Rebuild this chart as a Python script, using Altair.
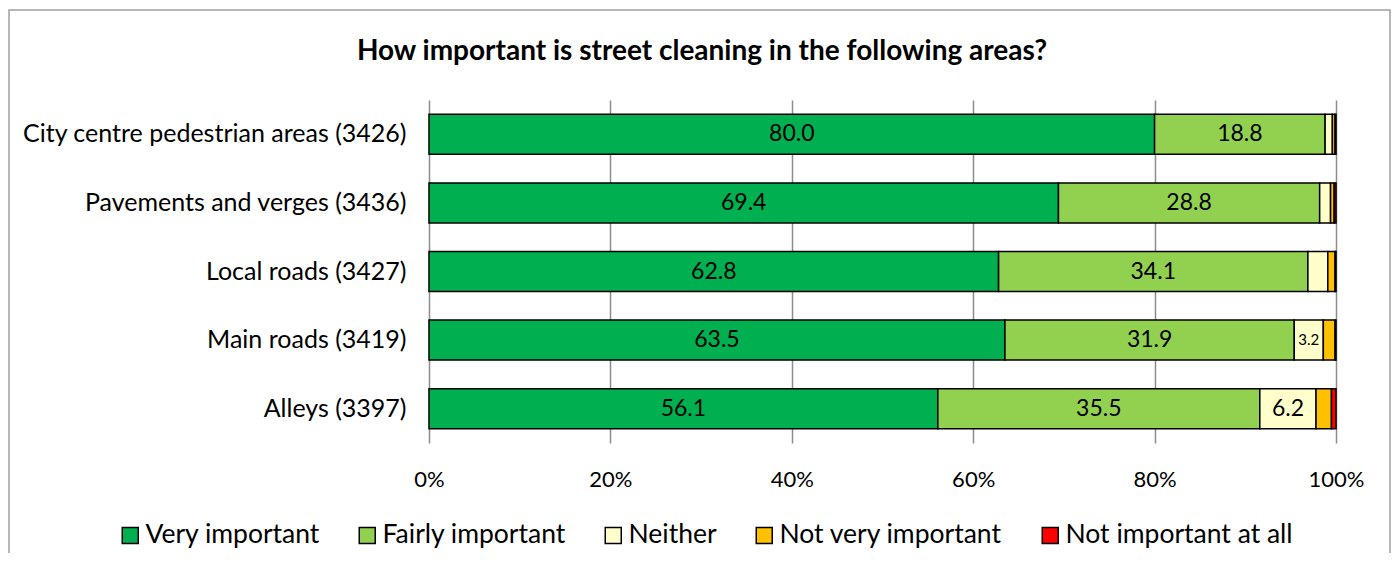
import altair as alt
import pandas as pd

title_text = "How important is street cleaning in the following areas?"
categories = [
    "City centre pedestrian areas (3426)",
    "Pavements and verges (3436)",
    "Local roads (3427)",
    "Main roads (3419)",
    "Alleys (3397)",
]
series = ["Very important", "Fairly important", "Neither", "Not very important", "Not important at all"]
colors = ["#00B050", "#92D050", "#FFFFCC", "#FFC000", "#FF0000"]

very = [80.0, 69.4, 62.8, 63.5, 56.1]
fairly = [18.8, 28.8, 34.1, 31.9, 35.5]
neither = [0.8, 1.2, 2.2, 3.2, 6.2]
notvery = [0.3, 0.4, 0.8, 1.3, 1.7]
notatall = [0.1, 0.2, 0.1, 0.1, 0.5]

tick_values = [0, 20, 40, 60, 80, 100]

rows = []
for i, c in enumerate(categories):
    for j, (s, vals) in enumerate(zip(series, [very, fairly, neither, notvery, notatall])):
        rows.append({"cat": c, "series": s, "order": j, "value": vals[i]})
df = pd.DataFrame(rows)

FONT = "Lato"

y_enc = alt.Y(
    "cat:N",
    sort=categories,
    title=None,
    scale=alt.Scale(paddingInner=0, paddingOuter=0),
    axis=alt.Axis(
        labelFontSize=25,
        labelColor="black",
        labelPadding=23,
        ticks=False,
        domain=False,
        labelLimit=600,
    ),
)

bars = alt.Chart(df).mark_bar(height=40, stroke="black", strokeWidth=1.5).encode(
    x=alt.X(
        "value:Q",
        stack="zero",
        scale=alt.Scale(domain=[0, 100], nice=False),
        axis=alt.Axis(
            values=tick_values,
            labelExpr="datum.value + '%'",
            grid=True,
            gridColor="#8c8c8c",
            gridWidth=1.5,
            domain=False,
            ticks=False,
            labelFontSize=22,
            labelColor="black",
            labelPadding=26,
            labelFlush=False,
            title=None,
        ),
    ),
    y=y_enc,
    color=alt.Color(
        "series:N",
        scale=alt.Scale(domain=series, range=colors),
        legend=alt.Legend(
            orient="none",
            legendX=-312,
            legendY=422,
            direction="horizontal",
            columns=5,
            title=None,
            symbolType="square",
            symbolSize=256,
            symbolStrokeColor="black",
            symbolStrokeWidth=1.5,
            labelFontSize=26.5,
            labelColor="black",
            columnPadding=34,
            labelOffset=2,
            labelLimit=500,
        ),
    ),
    order=alt.Order("order:Q"),
)

labels = (
    alt.Chart(df)
    .transform_stack(stack="value", groupby=["cat"], sort=[alt.SortField("order")], as_=["x0", "x1"])
    .transform_calculate(mid="(datum.x0 + datum.x1) / 2")
    .transform_filter("datum.value >= 3")
    .mark_text(color="black", baseline="middle", align="center")
    .encode(
        x=alt.X("mid:Q"),
        y=y_enc,
        text=alt.Text("value:Q", format=".1f"),
        size=alt.condition("datum.value < 5", alt.value(15), alt.value(23)),
    )
)

border = (
    alt.Chart(pd.DataFrame({"a": [0]}))
    .mark_rect(filled=False, stroke="#a0a0a0", strokeWidth=1.5)
    .encode(x=alt.value(-420), x2=alt.value(961), y=alt.value(-90), y2=alt.value(600))
)

title = (
    alt.Chart(pd.DataFrame({"t": [title_text]}))
    .mark_text(fontWeight="bold", color="black", align="center", baseline="middle", fontSize=28)
    .encode(text="t:N", x=alt.value(273), y=alt.value(-48), size=alt.value(28))
)

chart = (
    alt.layer(border, bars, labels, title)
    .properties(
        width=907,
        height=343,
        padding={"left": 421, "top": 92, "right": 56, "bottom": 110},
        autosize=alt.AutoSizeParams(type="none"),
    )
    .configure(font=FONT)
    .configure_view(strokeWidth=0)
)

chart.save("out.html", embed_options={"renderer": "svg", "actions": False})
